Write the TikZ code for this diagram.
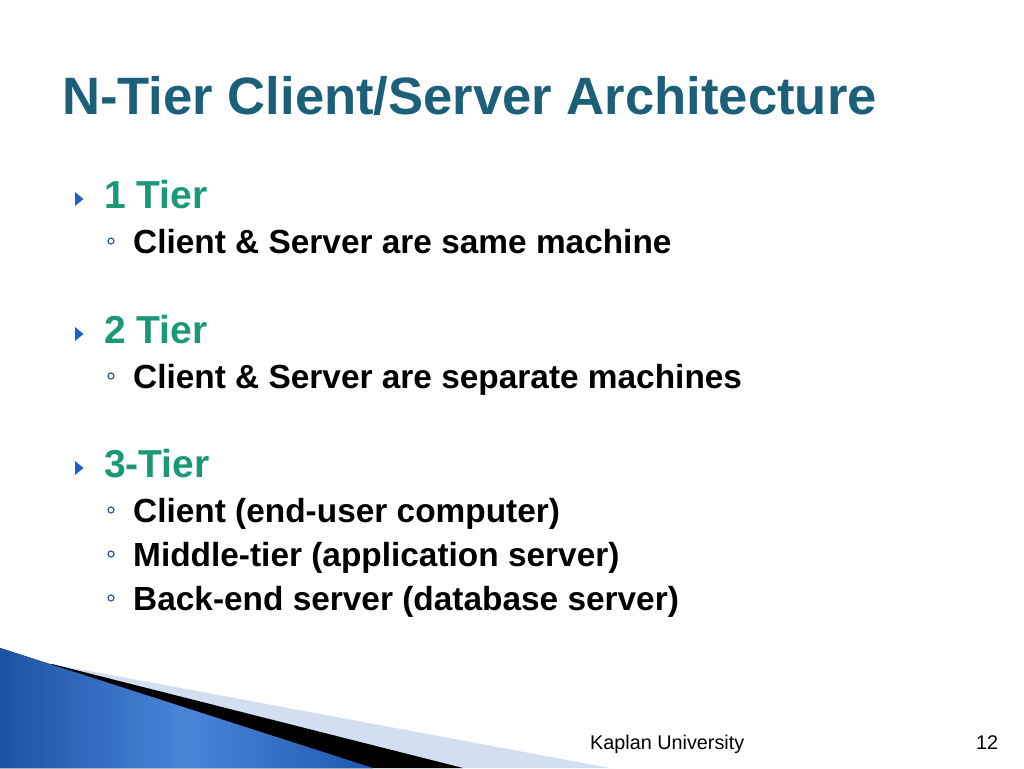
\documentclass[tikz,border=0pt]{standalone}
\usepackage{fontspec}
\setmainfont{Liberation Sans}
\definecolor{titlec}{HTML}{1B5F78}
\definecolor{tierc}{HTML}{1A9877}
\definecolor{tric}{HTML}{1F5FC8}
\definecolor{circc}{HTML}{2A5C9A}
\definecolor{bandc}{HTML}{D3DEF1}
\definecolor{blueA}{HTML}{1B52A6}
\definecolor{blueB}{HTML}{4A85D8}
\definecolor{blueC}{HTML}{1E58B0}
\begin{document}
\begin{tikzpicture}[x=1pt,y=-1pt,
  txt/.style={inner sep=0pt, anchor=base west},
  titlestyle/.style={txt, font=\fontsize{52.6}{60}\selectfont\bfseries, text=titlec},
  lvlone/.style={txt, font=\fontsize{39}{46}\selectfont\bfseries, text=tierc},
  lvltwo/.style={txt, font=\fontsize{33.4}{40}\selectfont\bfseries, text=black},
  foot/.style={txt, font=\fontsize{19.8}{24}\selectfont, text=black},
  tri/.style={fill=tric},
  circ/.style={draw=circc, line width=1.2pt}]
\useasboundingbox[fill=white] (0,0) rectangle (1024,768);

% decoration bottom left
\fill[bandc] (52,664) -- (610,768) -- (0,768) -- cycle;
\fill[black] (52,664) -- (463,768) -- (0,768) -- cycle;
\fill[left color=blueA, right color=blueC, middle color=blueB] (0,648) -- (373,768) -- (0,768) -- cycle;

% title
\node[titlestyle] (title) at (62,114) {N-Tier Client/Server Architecture};

% level one items
\node[lvlone] (t1) at (104,208) {1 Tier};
\node[lvlone] (t2) at (104,343) {2 Tier};
\node[lvlone] (t3) at (104,477) {3-Tier};
\foreach \b in {208,343,477}{
  \fill[tri] (75,\b-16) -- (83.5,\b-9) -- (75,\b-2) -- cycle;
}

% level two items
\node[lvltwo] (s1) at (133,253) {Client \& Server are same machine};
\node[lvltwo] (s2) at (133,388) {Client \& Server are separate machines};
\node[lvltwo] (s3) at (133,522) {Client (end-user computer)};
\node[lvltwo] (s4) at (133,566) {Middle-tier (application server)};
\node[lvltwo] (s5) at (133,610) {Back-end server (database server)};
\foreach \b in {253,388,522,566,610}{
  \draw[circ] (111,\b-12) circle (3);
}

% footer
\node[foot] (f1) at (590,749) {Kaplan University};
\node[foot] (f2) at (976,749) {12};
\end{tikzpicture}
\end{document}
